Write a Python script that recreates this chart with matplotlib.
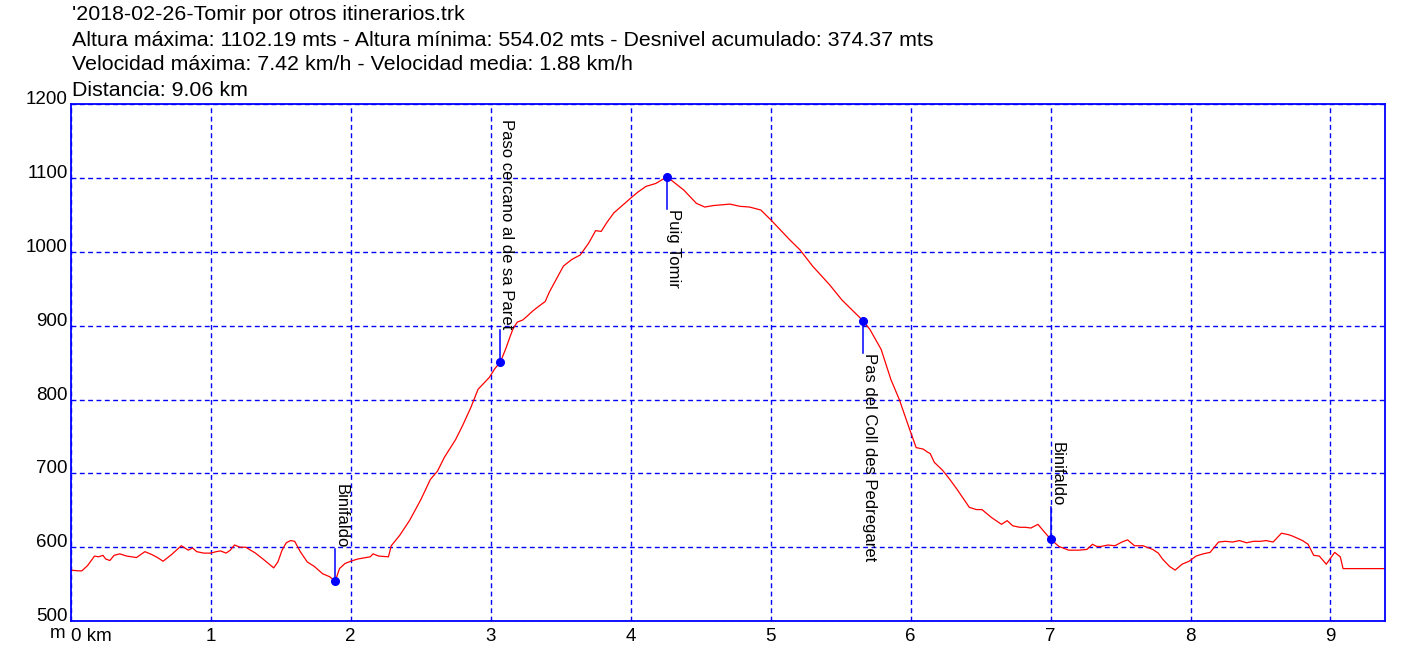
import matplotlib
matplotlib.use("Agg")
import matplotlib.pyplot as plt

plt.rcParams['font.family'] = ['Liberation Sans', 'DejaVu Sans']

# perfil: distancia (km) / altura (m)
km = [0.00, 0.05, 0.08, 0.12, 0.17, 0.20, 0.23, 0.25, 0.28, 0.31, 0.35, 0.40, 0.47, 0.53, 0.58,
      0.62, 0.66, 0.72, 0.79, 0.84, 0.87, 0.90, 0.95, 1.00, 1.04, 1.07, 1.11, 1.14, 1.17, 1.21,
      1.25, 1.32, 1.38, 1.45, 1.48, 1.51, 1.54, 1.57, 1.60, 1.64, 1.69, 1.74, 1.80, 1.85, 1.89,
      1.92, 1.96, 2.00, 2.05, 2.11, 2.14, 2.16, 2.20, 2.27, 2.29, 2.35, 2.42, 2.50, 2.57, 2.62,
      2.67, 2.75, 2.80, 2.86, 2.91, 2.95, 2.99, 3.03, 3.07, 3.11, 3.14, 3.16, 3.19, 3.23, 3.26,
      3.30, 3.34, 3.39, 3.42, 3.46, 3.52, 3.58, 3.64, 3.70, 3.75, 3.79, 3.83, 3.88, 3.94, 4.00,
      4.05, 4.11, 4.18, 4.26, 4.32, 4.38, 4.43, 4.47, 4.53, 4.59, 4.65, 4.71, 4.78, 4.85, 4.93,
      5.00, 5.07, 5.14, 5.21, 5.30, 5.42, 5.51, 5.58, 5.66, 5.71, 5.79, 5.86, 5.92, 5.98, 6.04,
      6.09, 6.12, 6.14, 6.17, 6.23, 6.28, 6.33, 6.38, 6.42, 6.47, 6.51, 6.58, 6.65, 6.69, 6.73,
      6.78, 6.82, 6.86, 6.91, 6.95, 7.00, 7.06, 7.13, 7.20, 7.26, 7.30, 7.33, 7.36, 7.41, 7.46,
      7.51, 7.55, 7.60, 7.66, 7.73, 7.77, 7.80, 7.85, 7.89, 7.94, 7.99, 8.04, 8.09, 8.14, 8.20,
      8.25, 8.30, 8.35, 8.40, 8.45, 8.50, 8.54, 8.59, 8.65, 8.70, 8.73, 8.80, 8.84, 8.88, 8.92,
      8.97, 9.03, 9.07, 9.09, 9.39]
alt = [569, 568, 568, 575, 588, 587, 589, 584, 582, 589, 591, 588, 586, 594, 590,
       586, 581, 590, 602, 596, 599, 594, 592, 592, 594, 595, 592, 596, 603, 600,
       600, 592, 583, 572, 580, 596, 606, 609, 608, 594, 580, 574, 564, 560, 554,
       571, 578, 581, 584, 586, 587, 591, 588, 587, 602, 616, 636, 664, 692, 703,
       722, 746, 765, 790, 814, 822, 830, 842, 851, 870, 886, 896, 905, 908, 913,
       920, 926, 933, 946, 960, 981, 990, 996, 1012, 1029, 1028, 1040, 1053, 1063, 1073,
       1081, 1089, 1093, 1102, 1093, 1084, 1074, 1066, 1061, 1063, 1064, 1065, 1062, 1061, 1057,
       1044, 1030, 1016, 1003, 981, 956, 935, 922, 907, 895, 868, 827, 800, 767, 735,
       733, 729, 727, 715, 704, 692, 679, 665, 654, 651, 651, 640, 631, 636, 629,
       627, 627, 626, 631, 622, 611, 601, 596, 596, 597, 604, 601, 601, 603, 602,
       607, 610, 602, 602, 597, 592, 584, 574, 569, 577, 581, 588, 591, 593, 607,
       608, 607, 609, 606, 608, 608, 609, 607, 619, 617, 615, 609, 604, 589, 588,
       577, 593, 587, 571, 571]

# waypoints
wp_names = ["Binifaldo", "Paso cercano al de sa Paret", "Puig Tomir",
            "Pas del Coll des Pedregaret", "Binifaldo"]
wp_km = [1.89, 3.07, 4.26, 5.66, 7.00]
wp_alt = [554, 851, 1102, 907, 611]
wp_dir = [1, 1, -1, -1, 1]

header = ["'2018-02-26-Tomir por otros itinerarios.trk",
          "Altura máxima: 1102.19 mts - Altura mínima: 554.02 mts - Desnivel acumulado: 374.37 mts",
          "Velocidad máxima: 7.42 km/h - Velocidad media: 1.88 km/h",
          "Distancia: 9.06 km"]

xticks = [0, 1, 2, 3, 4, 5, 6, 7, 8, 9]
xlabels = ["0 km", "1", "2", "3", "4", "5", "6", "7", "8", "9"]
yticks = [500, 600, 700, 800, 900, 1000, 1100, 1200]

fig = plt.figure(figsize=(14.2, 6.53), dpi=100)
ax = fig.add_axes([0.0498, 0.049, 0.9256, 0.791])

ax.plot(km, alt, color='red', lw=0.9)

stem = 44
for n, x, y, d in zip(wp_names, wp_km, wp_alt, wp_dir):
    ax.plot([x, x], [y, y + d * stem], color='blue', lw=1.1)
    ax.plot(x, y, 'o', color='blue', ms=5.5)
    ax.text(x - 0.01, y + d * stem, n, rotation=-90, fontsize=12,
            ha='left', va='bottom' if d > 0 else 'top')

ax.set_xlim(0, 9.39)
ax.set_ylim(500, 1200)
ax.set_xticks(xticks)
ax.set_xticklabels(xlabels)
ax.set_yticks(yticks)
ax.get_xticklabels()[0].set_ha('left')
for t in ax.get_yticklabels():
    t.set_va('baseline')
ax.tick_params(length=0, labelsize=13.5, colors='black')
ax.tick_params(axis='y', pad=2)
ax.tick_params(axis='x', pad=5)
ax.grid(True, color='blue', ls=(0, (3.5, 2.5)), lw=1)
for s in ax.spines.values():
    s.set_color('blue')
    s.set_linewidth(1.3)

fig.text(0.046, 1 - 633 / 653, "m", fontsize=13.5, ha='right', va='center')

for i, line in enumerate(header):
    fig.text(72 / 1420, 1 - (15 + 25 * i) / 653, line, fontsize=15.4, ha='left', va='center')

fig.savefig("out.png", dpi=100)
